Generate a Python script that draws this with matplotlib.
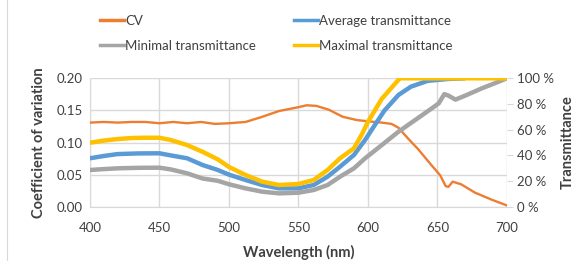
import matplotlib.pyplot as plt
from matplotlib.lines import Line2D
from matplotlib.ticker import FuncFormatter

plt.rcParams['font.family'] = ['Lato', 'DejaVu Sans']

# CV (left axis)
cv_wl = [400, 410, 420, 430, 440, 450, 460, 470, 480, 490, 500, 512, 524, 536, 550,
         556, 563, 572, 582, 592, 600, 610, 617, 622, 629, 636, 646, 652, 656, 658,
         661, 667, 677, 689, 700]
cv = [0.131, 0.132, 0.131, 0.132, 0.132, 0.130, 0.132, 0.130, 0.132, 0.129, 0.130,
      0.132, 0.140, 0.149, 0.155, 0.158, 0.157, 0.151, 0.140, 0.135, 0.133, 0.131,
      0.129, 0.123, 0.106, 0.090, 0.064, 0.049, 0.032, 0.031, 0.039, 0.035, 0.022,
      0.011, 0.002]

# transmittance in % (right axis)
max_wl = [400, 410, 420, 430, 440, 450, 458, 470, 481, 492, 500, 512, 524, 536, 550,
          561, 571, 580, 590, 596, 600, 610, 623, 650, 700]
max_t = [49.8, 51.5, 52.7, 53.5, 53.7, 53.7, 52, 48, 42.8, 36.9, 31, 24.7, 19.5, 16.9,
         17.7, 20.8, 28.6, 37.7, 45.5, 57, 66, 84, 100, 100, 100]

avg_wl = [400, 410, 420, 435, 450, 458, 470, 481, 492, 500, 512, 524, 536, 550, 561,
          571, 580, 590, 598, 605, 612, 622, 631, 643, 658, 670]
avg_t = [37.7, 39.5, 41, 41.5, 41.6, 40, 37.7, 32.5, 28.6, 25, 20.8, 16.9, 14.3, 14.3,
         16.9, 23.4, 31.2, 40.3, 52, 63.6, 75, 87, 93.5, 98, 99.5, 100]

min_wl = [400, 410, 420, 435, 450, 458, 470, 481, 492, 500, 512, 524, 536, 550, 561,
          571, 580, 590, 598, 610, 622, 634, 646, 651, 655, 658, 663, 670, 682, 694, 700]
min_t = [28.6, 29.3, 29.9, 30.3, 30.4, 29.1, 26, 22, 20.2, 17.5, 14.3, 11.7, 10.4, 10.9,
         13, 16.9, 23.4, 29.9, 37.7, 48, 58.4, 67.5, 76.6, 80.5, 87.7, 86.5, 83.4, 86.5,
         92.2, 97.3, 100]

c_cv = '#ED7D31'
c_avg = '#5B9BD5'
c_min = '#A5A5A5'
c_max = '#FFC000'
grid_c = '#D9D9D9'
txt_c = '#404040'

fig = plt.figure(figsize=(5.76, 2.61), dpi=100)
ax = fig.add_axes([0.156, 0.208, 0.724, 0.492])
ax2 = ax.twinx()

ax.plot(cv_wl, cv, color=c_cv, lw=1.7, zorder=3)
ax2.plot(avg_wl, avg_t, color=c_avg, lw=3.2, solid_capstyle='butt')
ax2.plot(min_wl, min_t, color=c_min, lw=3.2, solid_capstyle='butt')
ax2.plot(max_wl, max_t, color=c_max, lw=3.2, solid_capstyle='butt')

ax.set_xlim(400, 700)
ax.set_ylim(0, 0.2)
ax2.set_ylim(0, 100)
ax.set_xticks(range(400, 701, 50))
ax.set_yticks([0, 0.05, 0.10, 0.15, 0.20])
ax.yaxis.set_major_formatter(FuncFormatter(lambda v, p: '%.2f' % v))
ax2.set_yticks(range(0, 101, 20))
ax2.yaxis.set_major_formatter(FuncFormatter(lambda v, p: '%d %%' % v))

ax.grid(True, color=grid_c, lw=1)
ax.set_axisbelow(True)
for a in (ax, ax2):
    for s in a.spines.values():
        s.set_visible(False)
ax.spines['bottom'].set_visible(True)
ax.spines['bottom'].set_color(grid_c)
ax.spines['left'].set_visible(True)
ax.spines['left'].set_color(grid_c)
ax.tick_params(axis='both', length=0, labelsize=9.5, colors=txt_c, pad=5)
ax.tick_params(axis='x', pad=11)
ax2.tick_params(axis='y', length=4, color=grid_c, labelsize=9.5, colors=txt_c, pad=3)

ax.set_xlabel('Wavelength (nm)', fontsize=10.5, fontweight='bold', color=txt_c, labelpad=8)
ax.set_ylabel('Coefficient of variation', fontsize=10.5, fontweight='bold', color=txt_c, labelpad=8)
ax2.set_ylabel('Transmittance', fontsize=10.5, fontweight='bold', color=txt_c, labelpad=5)

handles = [Line2D([], [], color=c_cv, lw=2.5), Line2D([], [], color=c_min, lw=2.5),
           Line2D([], [], color=c_avg, lw=2.5), Line2D([], [], color=c_max, lw=2.5)]
labels = ['CV', 'Minimal transmittance', 'Average transmittance', 'Maximal transmittance']
leg = fig.legend(handles, labels, ncol=2, loc='upper left', bbox_to_anchor=(100 / 576, 1 - 15 / 261),
                 frameon=False, fontsize=9.5, handlelength=1.8, handletextpad=0.1,
                 columnspacing=2.9, labelspacing=0.95, borderpad=0, borderaxespad=0)
for t in leg.get_texts():
    t.set_color(txt_c)

fig.add_artist(Line2D([7 / 576, 7 / 576], [0, 1], color=grid_c, lw=0.8))

fig.savefig('out.png', dpi=100)
